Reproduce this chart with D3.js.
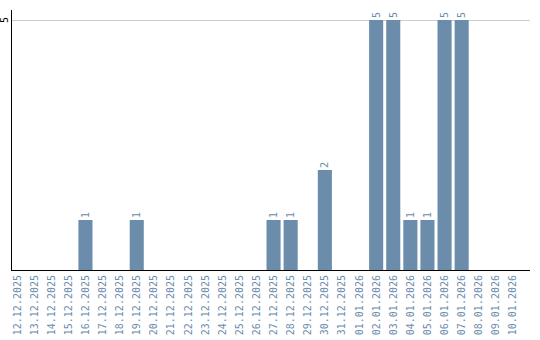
<!DOCTYPE html>
<html><head><meta charset="utf-8">
<script src="https://cdn.jsdelivr.net/npm/d3@7"></script>
<style>body{margin:0;background:#fff}svg{display:block}</style>
</head><body>
<svg id="c" width="540" height="340"></svg>
<script>
const dates = ["12.12.2025","13.12.2025","14.12.2025","15.12.2025","16.12.2025","17.12.2025","18.12.2025","19.12.2025","20.12.2025","21.12.2025","22.12.2025","23.12.2025","24.12.2025","25.12.2025","26.12.2025","27.12.2025","28.12.2025","29.12.2025","30.12.2025","31.12.2025","01.01.2026","02.01.2026","03.01.2026","04.01.2026","05.01.2026","06.01.2026","07.01.2026","08.01.2026","09.01.2026","10.01.2026"];
const counts = [0,0,0,0,1,0,0,1,0,0,0,0,0,0,0,1,1,0,2,0,0,5,5,1,1,5,5,0,0,0];
const yTicks = [5];

const svg = d3.select("#c");
const barColor = "#6b8cab";
const x = d3.scaleBand().domain(dates).range([10, 520]).paddingInner(3/17).paddingOuter(0).align(0);
const y = d3.scaleLinear().domain([0, 5.2]).range([270, 10]);

// grid
svg.append("g").selectAll("line").data(yTicks).join("line")
  .attr("x1", 11).attr("x2", 530).attr("y1", d => y(d)+0.5).attr("y2", d => y(d)+0.5)
  .attr("stroke", "#cccccc").attr("stroke-width", 1);

// bars
svg.append("g").selectAll("rect").data(dates.map((d,i)=>({d, v: counts[i]})).filter(o=>o.v>0)).join("rect")
  .attr("x", o => x(o.d)).attr("width", x.bandwidth())
  .attr("y", o => y(o.v)).attr("height", o => y(0) - y(o.v))
  .attr("fill", barColor);

// value labels
svg.append("g").selectAll("text").data(dates.map((d,i)=>({d, v: counts[i]})).filter(o=>o.v>0)).join("text")
  .attr("transform", o => `translate(${x(o.d)+x.bandwidth()/2+3.5},${y(o.v)-2}) rotate(-90)`)
  .attr("font-family", "DejaVu Sans Mono, monospace").attr("font-size", 10)
  .attr("fill", barColor).text(o => o.v);

// axes lines
svg.append("line").attr("x1", 11.5).attr("x2", 11.5).attr("y1", 10).attr("y2", 270).attr("stroke", "#000");
svg.append("line").attr("x1", 11).attr("x2", 530).attr("y1", 270.5).attr("y2", 270.5).attr("stroke", "#000");

// y tick labels
svg.append("g").selectAll("text").data(yTicks).join("text")
  .attr("transform", d => `translate(8,${y(d)}) rotate(-90)`)
  .attr("text-anchor", "middle")
  .attr("font-family", "DejaVu Sans Mono, monospace").attr("font-size", 10)
  .attr("fill", "#000").text(d => d);

// x labels
svg.append("g").selectAll("text").data(dates).join("text")
  .attr("transform", d => `translate(${x(d)+x.bandwidth()/2+3.5},275) rotate(-90)`)
  .attr("text-anchor", "end")
  .attr("font-family", "DejaVu Sans Mono, monospace").attr("font-size", 10)
  .attr("fill", barColor).text(d => d);
</script>
</body></html>
